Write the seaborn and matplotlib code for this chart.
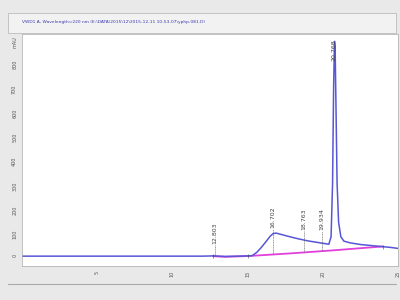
import numpy as np
import pandas as pd
import matplotlib
matplotlib.use("Agg")
import matplotlib.pyplot as plt
import seaborn as sns
from matplotlib.ticker import MultipleLocator

sns.set_style("white")

# signal (time in min, response in mAU)
time = [0, 2, 4, 6, 8, 10, 12, 12.7, 13.5, 14.5, 15.0, 15.3, 15.6, 15.9, 16.2, 16.5, 16.7,
        16.9, 17.2, 17.8, 18.4, 19.0, 19.6, 20.1, 20.4, 20.55, 20.65, 20.72, 20.78, 20.82, 20.88,
        20.95, 21.05, 21.2, 21.4, 21.8, 22.5, 23.5, 24.5, 25.0]
signal = [0, 0, 0, 0, 0, 0, 0, 1, -1, 0, 1, 2, 15, 35, 58, 82, 93,
          95, 90, 80, 71, 63, 57, 52, 49, 80, 300, 700, 885, 860, 600,
          300, 140, 80, 62, 55, 48, 42, 36, 32]

# integration baseline
base_time = [12.7, 13.5, 15.2, 18.0, 20.7, 24.0]
base_value = [0, -3, 1, 12, 24, 40]

# peak labels
peak_rt = [12.80, 16.70, 18.76, 19.93, 20.77]
peak_lab = ["12.803", "16.702", "18.763", "19.934", "20.768"]
peak_y = [50, 115, 107, 107, 805]

df = pd.DataFrame({"time": time, "signal": signal})
dfb = pd.DataFrame({"time": base_time, "value": base_value})

fig = plt.figure(figsize=(4, 3), dpi=100)
fig.patch.set_facecolor("#e9e9e9")

# title band
fig.patches.append(plt.Rectangle((0.02, 0.89), 0.97, 0.067, transform=fig.transFigure,
                                 facecolor="#f2f2f2", edgecolor="#bbbbbb", lw=0.6))
fig.text(0.055, 0.925, "VWD1 A, Wavelength=220 nm (E:\\DATA\\2015\\12\\2015-12-11 10-53-07\\yphp-081.D)",
         fontsize=3.2, color="#3a3ab0", va="center")

ax = fig.add_axes([0.055, 0.113, 0.94, 0.775])
ax.set_facecolor("white")

sns.lineplot(data=dfb, x="time", y="value", color="#e040dc", lw=1.3, ax=ax)
sns.lineplot(data=df, x="time", y="signal", color="#5656d6", lw=1.1, ax=ax)

for rt, lab, yy in zip(peak_rt, peak_lab, peak_y):
    sig = np.interp(rt, time, signal)
    low = np.interp(rt, base_time, base_value)
    if yy > sig:
        ax.vlines(rt, low, yy - 5, color="#555555", lw=0.4, linestyles=(0, (2, 1)))
    ax.text(rt, yy, lab, rotation=90, fontsize=4.5, color="#444444", ha="center", va="bottom")

for t in [12.7, 15.0, 24.0]:
    ax.vlines(t, np.interp(t, time, signal) - 8, np.interp(t, time, signal) + 8, color="#444444", lw=0.4)

ax.set_xlim(0, 25)
ax.set_ylim(-41, 917)
ax.set_xticks([5, 10, 15, 20, 25])
ax.set_yticks([0, 100, 200, 300, 400, 500, 600, 700, 800])
ax.xaxis.set_minor_locator(MultipleLocator(1))
ax.yaxis.set_minor_locator(MultipleLocator(20))
ax.tick_params(axis="both", which="major", labelsize=3.5, length=2, width=0.4, colors="#555555")
ax.tick_params(axis="both", which="minor", length=1, width=0.3, colors="#888888")
ax.tick_params(axis="y", labelrotation=90, pad=1.5)
ax.tick_params(axis="x", labelrotation=90, pad=1.5)
ax.text(-0.3, 880, "mAU", fontsize=3.5, rotation=90, ha="right", va="center", color="#555555")
ax.set_xlabel("")
ax.set_ylabel("")
for s in ax.spines.values():
    s.set_color("#aaaaaa")
    s.set_linewidth(0.5)

fig.add_artist(plt.Line2D([0.02, 0.99], [0.055, 0.055], transform=fig.transFigure, color="#aaaaaa", lw=0.8))

fig.savefig("out.png", dpi=100, facecolor=fig.get_facecolor())
